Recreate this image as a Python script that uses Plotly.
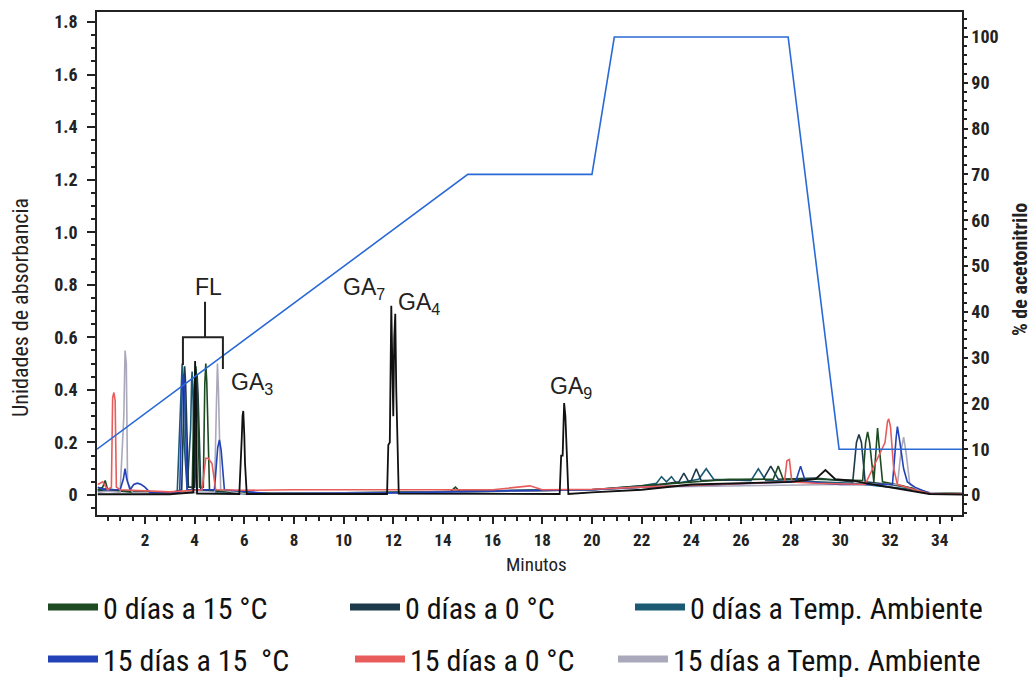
import plotly.graph_objects as go

# ---------------- data ----------------
# gradient of acetonitrile (% , right axis)
grad_t = [0.07, 15.0, 20.0, 20.9, 27.9, 29.95, 34.9]
grad_pct = [10, 70, 70, 100, 100, 10, 10]

# 0 días a Temp. Ambiente
ta0_t = [0.1, 0.5, 1.0, 2.0, 3.3, 3.42, 3.47, 3.5, 3.53, 3.58, 3.7, 3.84, 3.88, 3.9, 3.93, 3.98, 4.1, 6, 10, 14, 18, 20, 22,
         22.6, 22.8, 23.0, 23.2, 23.4, 24.3, 24.6, 24.9, 26.4, 26.7, 27.0, 29, 30.5, 32, 33, 33.6, 34.9]
ta0_y = [0.02, 0.025, 0.015, 0.01, 0.01, 0.3, 0.45, 0.50, 0.46, 0.2, 0.02, 0.25, 0.44, 0.47, 0.4, 0.15, 0.01, 0.005, 0.008, 0.012, 0.02, 0.02, 0.035,
         0.045, 0.07, 0.05, 0.07, 0.045, 0.06, 0.1, 0.06, 0.055, 0.1, 0.055, 0.05, 0.045, 0.03, 0.02, 0.005, 0.005]

# 0 días a 0 °C
c00_t = [0.1, 0.6, 1.5, 3.0, 3.48, 3.56, 3.6, 3.64, 3.75, 4.0, 4.06, 4.1, 4.14, 4.25, 6, 10, 15, 20, 22, 23.5, 23.7, 23.9, 24.0, 24.2, 24.4,
         26.9, 27.2, 27.5, 29, 30.5, 30.65, 30.75, 30.85, 31.0, 32.0, 33.0, 33.7, 34.9]
c00_y = [0.015, 0.02, 0.012, 0.008, 0.02, 0.42, 0.49, 0.42, 0.03, 0.03, 0.40, 0.46, 0.38, 0.02, 0.006, 0.006, 0.015, 0.02, 0.03, 0.05, 0.083, 0.05, 0.055, 0.1, 0.055,
         0.06, 0.11, 0.06, 0.065, 0.05, 0.2, 0.23, 0.2, 0.05, 0.04, 0.025, 0.006, 0.006]

# 0 días a 15 °C
c015_t = [0.1, 0.3, 0.4, 0.5, 1.0, 2.5, 3.9, 3.98, 4.05, 4.1, 4.2, 4.35, 4.41, 4.45, 4.49, 4.6, 6, 10, 14.3, 14.5, 14.7, 20, 22, 25.5,
          27.3, 27.5, 27.7, 29, 30.9, 31.02, 31.1, 31.18, 31.35, 31.45, 31.5, 31.55, 31.7, 32.5, 33.5, 34.9]
c015_y = [0.02, 0.03, 0.055, 0.02, 0.015, 0.01, 0.01, 0.4, 0.49, 0.42, 0.03, 0.03, 0.42, 0.50, 0.43, 0.02, 0.008, 0.008, 0.012, 0.03, 0.012, 0.02, 0.035, 0.06,
          0.06, 0.11, 0.06, 0.06, 0.055, 0.2, 0.24, 0.2, 0.05, 0.2, 0.255, 0.2, 0.05, 0.035, 0.008, 0.006]

# 15 días a 15 °C
c1515_t = [0.1, 0.4, 1.0, 1.13, 1.2, 1.27, 1.4, 1.55, 1.7, 1.85, 2.0, 2.2, 3.4, 3.5, 3.55, 3.6, 3.7, 4.8, 4.93, 5.0, 5.07, 5.2, 7, 12, 16, 20, 22,
           28.2, 28.4, 28.6, 30, 32.1, 32.25, 32.3, 32.4, 32.55, 32.7, 33, 33.6, 34.9]
c1515_y = [0.03, 0.02, 0.02, 0.06, 0.10, 0.06, 0.02, 0.04, 0.045, 0.04, 0.03, 0.01, 0.01, 0.40, 0.46, 0.40, 0.02, 0.02, 0.18, 0.21, 0.17, 0.02, 0.006, 0.008, 0.015, 0.02, 0.03,
           0.05, 0.11, 0.05, 0.04, 0.04, 0.22, 0.26, 0.2, 0.1, 0.05, 0.03, 0.006, 0.005]

# 15 días a 0 °C
c150_t = [0.1, 0.3, 0.5, 0.65, 0.7, 0.75, 0.8, 0.85, 1.0, 2, 3.0, 4.3, 4.45, 4.55, 4.7, 4.85, 6, 8, 10, 12, 14, 16, 17.5, 18, 20, 22,
          27.75, 27.85, 27.95, 28.05, 29, 31.0, 31.8, 31.9, 31.95, 32.02, 32.15, 32.3, 33.0, 33.6, 34.9]
c150_y = [0.04, 0.05, 0.02, 0.03, 0.37, 0.39, 0.36, 0.03, 0.02, 0.015, 0.012, 0.02, 0.14, 0.14, 0.12, 0.02, 0.018, 0.02, 0.02, 0.02, 0.018, 0.02, 0.035, 0.02, 0.022, 0.03,
          0.05, 0.13, 0.135, 0.05, 0.045, 0.04, 0.2, 0.28, 0.29, 0.26, 0.1, 0.04, 0.02, 0.006, 0.005]

# 15 días a Temp. Ambiente
ta15_t = [0.1, 0.5, 1.0, 1.15, 1.2, 1.25, 1.3, 1.5, 3.0, 4.8, 4.88, 4.92, 4.96, 5.05, 6, 12, 20, 22, 30,
          32.3, 32.45, 32.55, 32.65, 32.8, 33.3, 34.9]
ta15_y = [0.01, 0.015, 0.01, 0.3, 0.55, 0.5, 0.05, 0.01, 0.008, 0.01, 0.35, 0.50, 0.40, 0.02, 0.006, 0.008, 0.02, 0.03, 0.04,
          0.04, 0.17, 0.22, 0.16, 0.04, 0.01, 0.004]

# standards (black trace, FL / GA peaks)
std_t = [0.1, 3.0, 3.95, 3.99, 4.02, 4.05, 4.1, 5.8, 5.87, 5.9, 5.93, 5.96, 6.0, 6.03, 6.1,
         11.75, 11.8, 11.86, 11.92, 11.96, 12.0, 12.04, 12.08, 12.12, 12.17, 12.22,
         18.7, 18.76, 18.82, 18.88, 18.93, 18.98, 19.05, 20, 22, 24, 26, 28, 29.0, 29.4, 29.8, 30.5, 31, 32, 33, 33.6, 34.9]
std_y = [0.003, 0.003, 0.01, 0.4, 0.51, 0.4, 0.005, 0.004, 0.12, 0.22, 0.30, 0.32, 0.23, 0.12, 0.004,
         0.004, 0.19, 0.2, 0.72, 0.5, 0.3, 0.6, 0.69, 0.4, 0.19, 0.005,
         0.004, 0.15, 0.15, 0.35, 0.3, 0.15, 0.004, 0.01, 0.02, 0.04, 0.045, 0.05, 0.06, 0.095, 0.06, 0.055, 0.045, 0.03, 0.015, 0.004, 0.002]

series_names = ["0 días a 15 °C", "0 días a 0 °C", "0 días a Temp. Ambiente",
                "15 días a 15\u00a0 °C", "15 días a 0 °C", "15 días a Temp. Ambiente"]
series_colors = ["#1d4a22", "#1c3a4a", "#1b5a72", "#2342b8", "#e85c5c", "#a9a9bb"]
series_t = [c015_t, c00_t, ta0_t, c1515_t, c150_t, ta15_t]
series_y = [c015_y, c00_y, ta0_y, c1515_y, c150_y, ta15_y]

x_ticks = list(range(2, 35, 2))
y_ticks = [0, 0.2, 0.4, 0.6, 0.8, 1.0, 1.2, 1.4, 1.6, 1.8]
y_ticktext = ["0", "0.2", "0.4", "0.6", "0.8", "1.0", "1.2", "1.4", "1.6", "1.8"]
y2_ticks = list(range(0, 101, 10))

peak_labels = ["FL", "GA<sub>7</sub>", "GA<sub>4</sub>", "GA<sub>3</sub>", "GA<sub>9</sub>"]
peak_label_t = [4.54, 10.82, 13.03, 6.31, 19.15]
peak_label_y = [0.79, 0.784, 0.727, 0.426, 0.411]

# ---------------- figure ----------------
NARROW = "Liberation Sans Narrow, Arial Narrow, Roboto Condensed, DejaVu Sans Condensed, sans-serif"
fig = go.Figure()

draw_order = [2, 1, 0, 5, 3, 4]
for i in draw_order:
    fig.add_trace(go.Scatter(x=series_t[i], y=series_y[i], mode="lines", showlegend=False,
                             line=dict(color=series_colors[i], width=1.6), hoverinfo="skip"))
fig.add_trace(go.Scatter(x=std_t, y=std_y, mode="lines", showlegend=False,
                         line=dict(color="#111111", width=1.8), hoverinfo="skip"))
fig.add_trace(go.Scatter(x=grad_t, y=grad_pct, mode="lines", showlegend=False, yaxis="y2",
                         line=dict(color="#2a6ad6", width=1.6), hoverinfo="skip"))

# legend entries (one legend per entry for exact placement)
leg_x_px = [43, 345, 630, 43, 350, 613]
leg_y_px = [607, 607, 607, 659, 659, 659]
L, R, T, B = 97, 70, 12, 164
W, H = 1032, 679
pw, ph = W - L - R, H - T - B
for i in range(6):
    key = "legend" if i == 0 else f"legend{i+1}"
    fig.add_trace(go.Scatter(x=[None], y=[None], mode="lines", name=series_names[i], legend=key,
                             line=dict(color=series_colors[i], width=7)))
    fig.update_layout({key: dict(x=(leg_x_px[i] - L) / pw, y=((H - B) - leg_y_px[i]) / ph,
                                 xanchor="left", yanchor="middle", orientation="h",
                                 bgcolor="rgba(0,0,0,0)", itemwidth=50,
                                 font=dict(family=NARROW, size=30, color="#111111"))})

# peak labels
for txt, tx, ty in zip(peak_labels, peak_label_t, peak_label_y):
    fig.add_annotation(x=tx, y=ty, text=txt, showarrow=False, xanchor="center", yanchor="middle",
                       font=dict(family="Liberation Sans, Arial, sans-serif", size=23, color="#222222"))

# FL bracket
fig.add_shape(type="path", xref="x", yref="y",
              path="M3.53,0.495 L3.53,0.60 L5.14,0.60 L5.14,0.48 M4.42,0.60 L4.42,0.735",
              line=dict(color="#222222", width=2))

# axis titles
fig.add_annotation(xref="paper", yref="paper", x=(20 - L) / pw, y=((H - B) - 308) / ph,
                   xanchor="center", yanchor="middle",
                   text="Unidades de absorbancia", textangle=-90, showarrow=False,
                   font=dict(family=NARROW, size=22, color="#222222"))
fig.add_annotation(xref="paper", yref="paper", x=(1020 - L) / pw, y=((H - B) - 270) / ph,
                   xanchor="center", yanchor="middle",
                   text="% de acetonitrilo", textangle=-90, showarrow=False,
                   font=dict(family=NARROW, size=20, color="#222222", weight="bold"))
fig.add_annotation(xref="paper", yref="paper", x=(536 - L) / pw, y=((H - B) - 564) / ph,
                   xanchor="center", yanchor="middle",
                   text="Minutos", showarrow=False,
                   font=dict(family=NARROW, size=19, color="#222222"))

tickfont = dict(family=NARROW, size=18, color="#222222", weight="bold")
xtickfont = dict(family=NARROW, size=17, color="#222222", weight="bold")
fig.update_layout(
    width=W, height=H,
    margin=dict(l=L, r=R, t=T, b=B, pad=0, autoexpand=False),
    paper_bgcolor="white", plot_bgcolor="white",
    xaxis=dict(range=[0.07, 34.9], tickvals=x_ticks, ticks="outside", ticklen=7, tickwidth=1.5,
               tickcolor="#222", showline=True, linecolor="#222", linewidth=1.5, mirror=True,
               showgrid=False, zeroline=False, tickfont=xtickfont, ticklabelstandoff=2,
               minor=dict(dtick=0.5, ticks="outside", ticklen=4, tickcolor="#222", showgrid=False)),
    yaxis=dict(range=[-0.076, 1.838], tickvals=y_ticks, ticktext=y_ticktext, ticks="outside",
               ticklen=8, tickwidth=1.5, tickcolor="#222", showline=True, linecolor="#222",
               linewidth=1.5, mirror=True, showgrid=False, zeroline=False, tickfont=tickfont,
               ticklabelstandoff=6,
               minor=dict(dtick=0.05, ticks="outside", ticklen=4, tickcolor="#222", showgrid=False)),
    yaxis2=dict(range=[-4.37, 105.46], overlaying="y", side="right", tickvals=y2_ticks,
                ticks="outside", ticklen=4, tickwidth=1.5, tickcolor="#222", showline=True,
                linecolor="#222", linewidth=1.5, showgrid=False, zeroline=False, tickfont=tickfont,
                minor=dict(dtick=2, ticks="outside", ticklen=3, tickcolor="#222", showgrid=False)),
)

fig.write_html("out.html")
